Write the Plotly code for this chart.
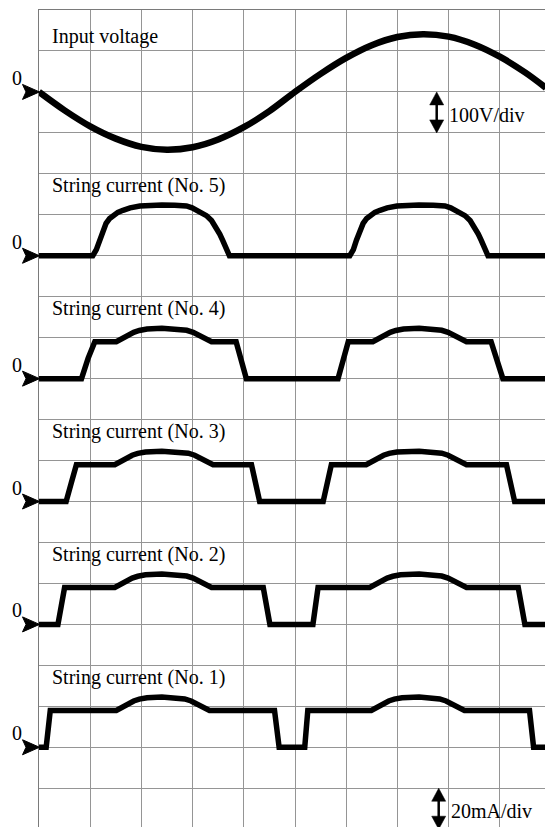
import plotly.graph_objects as go

# ---------------- data ----------------
# time base: 2 ms/div (50 Hz mains), input voltage 100 V/div, currents 20 mA/div
t_vin = [0, 1, 2, 3, 4, 5, 6, 7, 8, 9, 10, 11, 12, 13, 14, 15, 16, 17, 18, 19, 19.8]
v_in = [0, -45, -84, -114, -134, -141, -135, -116, -86, -47, 0, 44, 83, 114, 134, 141, 135, 116, 86, 47, 10]

t_s5 = [0,
        2.10, 2.24, 2.36, 2.50, 2.62, 2.76, 2.90, 3.08, 3.28, 3.56, 3.94, 4.40, 4.80,
        5.30, 5.76, 5.98, 6.14, 6.34, 6.54, 6.74, 6.92, 7.06, 7.18, 7.32, 7.44,
        12.14, 12.28, 12.40, 12.54, 12.66, 12.80, 12.94, 13.12, 13.32, 13.60, 13.98, 14.44, 14.84,
        15.40, 15.86, 16.08, 16.24, 16.44, 16.64, 16.84, 17.02, 17.16, 17.28, 17.42, 17.54,
        19.8]
i_s5 = [0,
        0, 3, 7.6, 12, 15.8, 18.2, 19.8, 21.2, 22.2, 23.4, 24.3, 24.7, 24.8,
        24.7, 24.3, 23.4, 22.2, 21.0, 19.6, 17.2, 14.0, 10.6, 7.4, 3.4, 0,
        0, 3, 7.6, 12, 15.8, 18.2, 19.8, 21.2, 22.2, 23.4, 24.3, 24.7, 24.8,
        24.7, 24.3, 23.4, 22.2, 21.0, 19.6, 17.2, 14.0, 10.6, 7.4, 3.4, 0,
        0]

t_s4 = [0, 1.66, 1.92, 2.18,
        3.02, 3.17, 3.32, 3.50, 3.70, 3.92, 4.22, 4.80, 5.42, 5.77, 6.02, 6.22, 6.42, 6.58, 6.74,
        7.70, 7.90, 8.10, 11.68, 11.88, 12.08,
        13.04, 13.19, 13.34, 13.52, 13.72, 13.94, 14.24, 14.85, 15.38, 15.73, 15.98, 16.18, 16.38, 16.54, 16.70,
        17.66, 17.90, 18.12, 19.8]
i_s4 = [0, 0, 10, 18,
        18, 19.0, 20.2, 21.5, 22.6, 23.5, 24.2, 24.6, 24.3, 23.6, 22.6, 21.4, 20.0, 18.9, 18,
        18, 9, 0, 0, 9, 18,
        18, 19.0, 20.2, 21.5, 22.6, 23.5, 24.2, 24.6, 24.3, 23.6, 22.6, 21.4, 20.0, 18.9, 18,
        18, 9, 0, 0]

t_s3 = [0, 1.06, 1.26, 1.46,
        2.96, 3.11, 3.26, 3.44, 3.64, 3.86, 4.16, 4.80, 5.48, 5.83, 6.08, 6.28, 6.48, 6.64, 6.80,
        8.30, 8.46, 8.62, 11.10, 11.26, 11.42,
        12.78, 12.93, 13.08, 13.26, 13.46, 13.68, 13.98, 14.85, 15.38, 15.73, 15.98, 16.18, 16.38, 16.54, 16.70,
        18.26, 18.42, 18.58, 19.8]
i_s3 = [0, 0, 9, 18,
        18, 19.0, 20.2, 21.5, 22.6, 23.5, 24.2, 24.6, 24.3, 23.6, 22.6, 21.4, 20.0, 18.9, 18,
        18, 9, 0, 0, 9, 18,
        18, 19.0, 20.2, 21.5, 22.6, 23.5, 24.2, 24.6, 24.3, 23.6, 22.6, 21.4, 20.0, 18.9, 18,
        18, 9, 0, 0]

t_s2 = [0, 0.74, 0.87, 1.00,
        2.96, 3.11, 3.26, 3.44, 3.64, 3.86, 4.16, 4.80, 5.42, 5.77, 6.02, 6.22, 6.42, 6.58, 6.74,
        8.76, 8.89, 9.02, 10.70, 10.80, 10.90,
        12.92, 13.07, 13.22, 13.40, 13.60, 13.82, 14.12, 14.85, 15.38, 15.73, 15.98, 16.18, 16.38, 16.54, 16.70,
        18.72, 18.85, 18.98, 19.8]
i_s2 = [0, 0, 9, 18,
        18, 19.0, 20.2, 21.5, 22.6, 23.5, 24.2, 24.6, 24.3, 23.6, 22.6, 21.4, 20.0, 18.9, 18,
        18, 9, 0, 0, 9, 18,
        18, 19.0, 20.2, 21.5, 22.6, 23.5, 24.2, 24.6, 24.3, 23.6, 22.6, 21.4, 20.0, 18.9, 18,
        18, 9, 0, 0]

t_s1 = [0, 0.28, 0.36, 0.44,
        3.02, 3.17, 3.32, 3.50, 3.70, 3.92, 4.22, 4.80, 5.34, 5.69, 5.94, 6.14, 6.34, 6.50, 6.66,
        9.20, 9.29, 9.38, 10.38, 10.44, 10.50,
        12.98, 13.13, 13.28, 13.46, 13.66, 13.88, 14.18, 14.85, 15.30, 15.65, 15.90, 16.10, 16.30, 16.46, 16.62,
        19.16, 19.24, 19.32, 19.8]
i_s1 = [0, 0, 9, 18,
        18, 19.0, 20.2, 21.5, 22.6, 23.5, 24.2, 24.6, 24.3, 23.6, 22.6, 21.4, 20.0, 18.9, 18,
        18, 9, 0, 0, 9, 18,
        18, 19.0, 20.2, 21.5, 22.6, 23.5, 24.2, 24.6, 24.3, 23.6, 22.6, 21.4, 20.0, 18.9, 18,
        18, 9, 0, 0]

trace_labels = ["Input voltage", "String current (No. 5)", "String current (No. 4)",
                "String current (No. 3)", "String current (No. 2)", "String current (No. 1)"]
scale_labels = ["100V/div", "20mA/div"]

# ---------------- geometry ----------------
W, H = 545, 827
PL, PT = 39, 10
PW, PH = W - PL, H - PT
DIV_X, DIV_Y = 51.2, 40.96
MS_PER_DIV = 2.0
V_PER_DIV = 100.0
MA_PER_DIV = 20.0
NX = PW / DIV_X
NY = PH / DIV_Y
ZERO_DIV = [2, 6, 9, 12, 15, 18]   # zero level of each channel, in divisions from the top

GRID = "#959595"
FONT = "Liberation Serif"


def fx(px):
    return (px - PL) / PW


def fy(py):
    return 1 - (py - PT) / PH


fig = go.Figure()

fig.add_trace(go.Scatter(x=t_vin, y=v_in, mode="lines", yaxis="y",
                         line=dict(color="black", width=6.5, shape="spline", smoothing=0.9),
                         hoverinfo="skip", showlegend=False))

currents = [(t_s5, i_s5), (t_s4, i_s4), (t_s3, i_s3), (t_s2, i_s2), (t_s1, i_s1)]
extra_axes = {}
for n, (tt, ii) in enumerate(currents):
    ax_id = n + 2
    k = ZERO_DIV[n + 1]
    fig.add_trace(go.Scatter(x=tt, y=ii, mode="lines", yaxis=f"y{ax_id}",
                             line=dict(color="black", width=5.5),
                             hoverinfo="skip", showlegend=False))
    extra_axes[f"yaxis{ax_id}"] = dict(overlaying="y", visible=False,
                                       range=[-(NY - k) * MA_PER_DIV, k * MA_PER_DIV])

k0 = ZERO_DIV[0]
fig.update_layout(
    width=W, height=H,
    margin=dict(l=PL, t=PT, r=0, b=0, pad=0),
    paper_bgcolor="white", plot_bgcolor="white",
    xaxis=dict(range=[0, NX * MS_PER_DIV], dtick=MS_PER_DIV, tick0=0,
               showgrid=True, gridcolor=GRID, gridwidth=1, zeroline=False,
               showline=True, linecolor="#7a7a7a", linewidth=1, mirror=False,
               side="top", showticklabels=False, ticks=""),
    yaxis=dict(range=[-(NY - k0) * V_PER_DIV, k0 * V_PER_DIV], dtick=V_PER_DIV, tick0=0,
               showgrid=True, gridcolor=GRID, gridwidth=1, zeroline=False,
               showline=True, linecolor="#7a7a7a", linewidth=1,
               showticklabels=False, ticks=""),
    **extra_axes,
)

annotations = []
shapes = []
for n, k in enumerate(ZERO_DIV):
    zpy = PT + k * DIV_Y
    lab_py = 36 if n == 0 else zpy - 70
    annotations.append(dict(text=trace_labels[n], xref="paper", yref="paper",
                            x=fx(50), y=fy(lab_py), xanchor="left", yanchor="middle",
                            showarrow=False, font=dict(family=FONT, size=20, color="black")))
    annotations.append(dict(text="0", xref="paper", yref="paper",
                            x=fx(16.7), y=fy(zpy - 14), xanchor="center", yanchor="middle",
                            showarrow=False, font=dict(family=FONT, size=20, color="black")))
    path = (f"M {fx(PL + 0.5)},{fy(zpy)} L {fx(22.5)},{fy(zpy - 7.5)} "
            f"L {fx(26)},{fy(zpy)} L {fx(22.5)},{fy(zpy + 7.5)} Z")
    shapes.append(dict(type="path", xref="paper", yref="paper", path=path,
                       fillcolor="black", line=dict(color="black", width=1)))


def double_arrow(cx, top, bot):
    hw, hh = 7, 13
    out = [dict(type="line", xref="paper", yref="paper",
                x0=fx(cx), x1=fx(cx), y0=fy(top + hh - 1), y1=fy(bot - hh + 1),
                line=dict(color="black", width=2.5))]
    up = f"M {fx(cx)},{fy(top)} L {fx(cx - hw)},{fy(top + hh)} L {fx(cx + hw)},{fy(top + hh)} Z"
    dn = f"M {fx(cx)},{fy(bot)} L {fx(cx - hw)},{fy(bot - hh)} L {fx(cx + hw)},{fy(bot - hh)} Z"
    for p in (up, dn):
        out.append(dict(type="path", xref="paper", yref="paper", path=p,
                        fillcolor="black", line=dict(color="black", width=0.5)))
    return out


shapes += double_arrow(436.7, PT + 2 * DIV_Y, PT + 3 * DIV_Y)
shapes += double_arrow(438.7, PT + 19 * DIV_Y, PT + 20 * DIV_Y)

annotations.append(dict(text=scale_labels[0], xref="paper", yref="paper",
                        x=fx(447), y=fy(115), xanchor="left", yanchor="middle",
                        showarrow=False, font=dict(family=FONT, size=20, color="black")))
annotations.append(dict(text=scale_labels[1], xref="paper", yref="paper",
                        x=fx(449), y=fy(811), xanchor="left", yanchor="middle",
                        showarrow=False, font=dict(family=FONT, size=20, color="black")))

fig.update_layout(annotations=annotations, shapes=shapes)
fig.write_html("out.html")
